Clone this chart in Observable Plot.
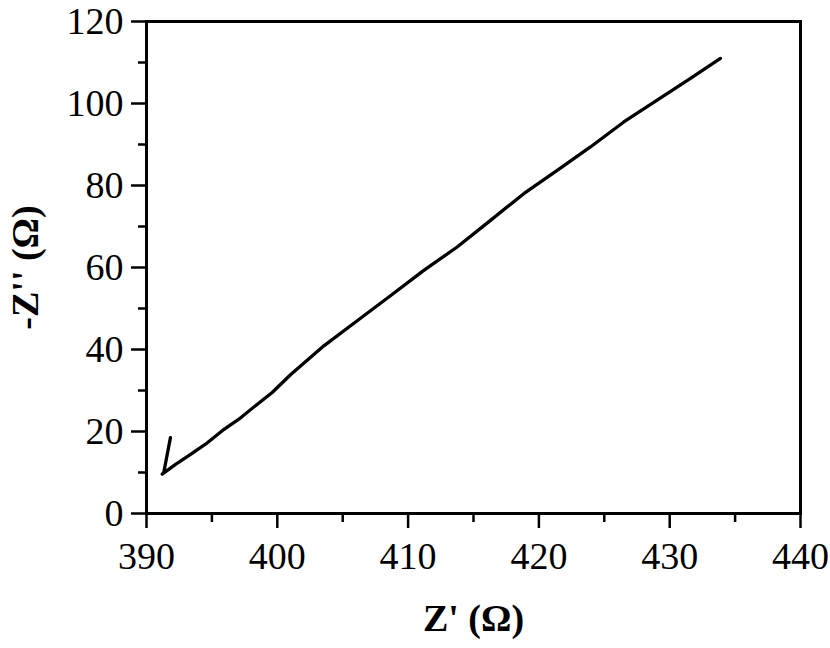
<!DOCTYPE html>
<html>
<head>
<meta charset="utf-8">
<script src="https://cdn.jsdelivr.net/npm/d3@7"></script>
<script src="https://cdn.jsdelivr.net/npm/@observablehq/plot@0.6"></script>
<style>
  html, body { margin: 0; padding: 0; background: white; }
  svg { display: block; }
</style>
</head>
<body>
<div id="chart"></div>
<script>
const zReal = [391.83, 391.32, 391.2, 392.22, 393.23, 394.51, 395.79, 397.06, 398.33, 399.61, 401.01, 403.56, 406.11, 408.65, 411.20, 413.75, 416.30, 418.84, 421.40, 423.94, 426.49, 429.04, 431.59, 433.88];
const zImag = [18.5, 10.0, 9.6, 12.0, 14.1, 16.9, 20.2, 23.0, 26.3, 29.5, 33.85, 40.9, 47.0, 53.1, 59.3, 65.0, 71.5, 78.0, 83.7, 89.4, 95.5, 100.8, 106.1, 111.0];
const xTicks = [390, 400, 410, 420, 430, 440];
const xMinor = [395, 405, 415, 425, 435];
const yTicks = [0, 20, 40, 60, 80, 100, 120];
const yMinor = [10, 30, 50, 70, 90, 110];
const xTitle = "Z' (Ω)";
const yTitle = "-Z'' (Ω)";

const data = zReal.map((x, i) => ({x, y: zImag[i]}));

const chart = Plot.plot({
  width: 830,
  height: 648,
  marginLeft: 146,
  marginRight: 30,
  marginTop: 21,
  marginBottom: 135,
  x: {domain: [390, 440]},
  y: {domain: [0, 120]},
  style: {fontFamily: "'Liberation Serif', 'Times New Roman', serif", background: "white", color: "black"},
  marks: [
    Plot.axisX(xMinor, {tickSize: 9, tickFormat: () => "", label: null, strokeWidth: 2.5}),
    Plot.axisX(xTicks, {tickSize: 15, tickPadding: 14, fontSize: 38, label: null, strokeWidth: 2.5, tickFormat: d => String(d)}),
    Plot.axisY(yMinor, {tickSize: 8, tickFormat: () => "", label: null, strokeWidth: 2.5}),
    Plot.axisY(yTicks, {tickSize: 15, tickPadding: 8, fontSize: 38, label: null, strokeWidth: 2.5, tickFormat: d => String(d)}),
    Plot.frame({stroke: "black", strokeWidth: 3}),
    Plot.line(data, {x: "x", y: "y", stroke: "black", strokeWidth: 3.3, strokeLinejoin: "round", strokeLinecap: "round"}),
    Plot.text([xTitle], {frameAnchor: "bottom", dy: 117, fontSize: 38, fontWeight: "bold", fill: "black"}),
    Plot.text([yTitle], {frameAnchor: "left", textAnchor: "middle", dx: -121, rotate: -90, fontSize: 38, fontWeight: "bold", fill: "black"})
  ]
});
document.getElementById("chart").appendChild(chart);
</script>
</body>
</html>
